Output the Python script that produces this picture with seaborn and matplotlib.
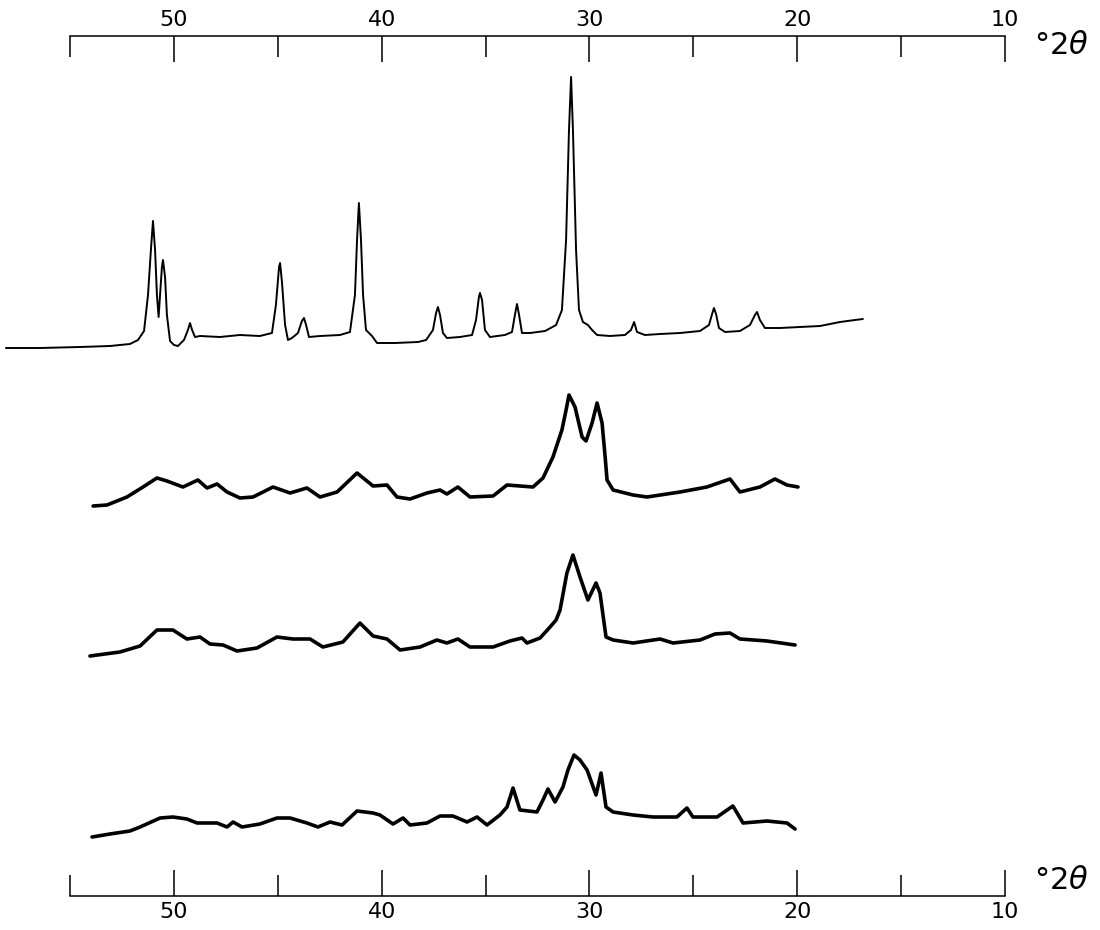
import numpy as np
import pandas as pd
import matplotlib
matplotlib.use('Agg')
import matplotlib.pyplot as plt
from matplotlib.ticker import FixedLocator
import seaborn as sns

sns.set_theme(style='white')
plt.rcParams['font.family'] = ['DejaVu Sans']
plt.rcParams['mathtext.fontset'] = 'dejavusans'

# Diffractogramas: angulo (°2θ) e intensidad relativa
deg_a = [58.08, 56.44, 54.52, 53.08, 52.12, 51.73, 51.44, 51.25, 51.11, 51.01,
         50.91, 50.82, 50.74, 50.67, 50.58, 50.53, 50.43, 50.34, 50.19, 50.00,
         49.81, 49.52, 49.33, 49.23, 49.13, 48.99, 48.75, 47.79, 46.83, 45.87,
         45.29, 45.10, 44.95, 44.90, 44.81, 44.66, 44.52, 44.33, 44.04, 43.85,
         43.75, 43.65, 43.51, 42.98, 42.02, 41.54, 41.30, 41.20, 41.11, 41.01,
         40.91, 40.77, 40.48, 40.24, 39.38, 38.27, 37.88, 37.55, 37.40, 37.31,
         37.21, 37.07, 36.88, 36.25, 35.67, 35.48, 35.34, 35.29, 35.19, 35.05,
         34.81, 34.09, 33.75, 33.61, 33.51, 33.41, 33.27, 32.88, 32.16, 31.63,
         31.35, 31.15, 31.01, 30.91, 30.82, 30.67, 30.53, 30.34, 30.10, 29.90,
         29.66, 29.04, 28.32, 28.03, 27.88, 27.74, 27.36, 26.63, 25.67, 24.71,
         24.28, 24.13, 24.04, 23.94, 23.80, 23.51, 22.79, 22.31, 22.07, 21.97,
         21.83, 21.59, 20.87, 19.90, 18.94, 17.98, 17.26, 16.88]
int_a = [7, 7, 8, 9, 11, 15, 24, 60, 105, 134,
         105, 60, 38, 60, 88, 95, 78, 40, 14, 10,
         9, 15, 25, 32, 25, 18, 19, 18, 20, 19,
         22, 50, 88, 92, 73, 30, 15, 17, 22, 34,
         37, 30, 18, 19, 20, 23, 60, 115, 152, 115,
         60, 25, 19, 12, 12, 13, 15, 25, 42, 48,
         40, 22, 17, 18, 20, 35, 58, 62, 55, 25,
         18, 20, 23, 40, 51, 40, 22, 22, 24, 30,
         45, 115, 225, 278, 225, 105, 45, 33, 30, 25,
         20, 19, 20, 25, 33, 23, 20, 21, 22, 24,
         30, 41, 47, 41, 27, 23, 24, 30, 40, 43,
         35, 27, 27, 28, 29, 33, 35, 36]

deg_b = [53.89, 53.22, 52.26, 51.49, 50.82, 50.34, 49.57, 48.85, 48.41, 47.93,
         47.45, 46.83, 46.20, 45.24, 44.42, 43.61, 42.98, 42.16, 41.20, 40.43,
         39.76, 39.28, 38.65, 37.84, 37.21, 36.88, 36.35, 35.77, 34.66, 33.99,
         32.74, 32.26, 31.78, 31.35, 31.15, 31.01, 30.72, 30.38, 30.19, 29.90,
         29.66, 29.42, 29.28, 29.18, 28.89, 27.93, 27.26, 25.67, 24.38, 23.27,
         22.79, 21.83, 21.11, 20.53, 20.00]
int_b = [1, 2, 10, 20, 29, 26, 20, 27, 19, 23,
         15, 9, 10, 20, 14, 19, 10, 15, 34, 21,
         22, 10, 8, 14, 17, 13, 20, 10, 11, 22,
         20, 29, 50, 77, 97, 112, 100, 70, 66, 84,
         104, 84, 52, 27, 17, 12, 10, 15, 20, 28,
         15, 20, 28, 22, 20]

deg_c = [54.04, 52.60, 51.63, 50.82, 50.05, 49.38, 48.75, 48.27, 47.64, 46.97,
         46.01, 45.05, 44.28, 43.46, 42.84, 41.88, 41.06, 40.43, 39.76, 39.13,
         38.17, 37.36, 36.88, 36.35, 35.77, 34.66, 33.85, 33.27, 33.03, 32.40,
         31.92, 31.63, 31.44, 31.11, 30.82, 30.48, 30.10, 29.71, 29.52, 29.23,
         28.89, 27.93, 26.63, 26.01, 24.71, 23.99, 23.27, 22.79, 21.49, 20.14]
int_c = [1, 5, 11, 27, 27, 18, 20, 13, 12, 6,
         9, 20, 18, 18, 10, 15, 34, 21, 18, 7,
         10, 17, 14, 18, 10, 10, 16, 19, 14, 19,
         30, 37, 47, 84, 102, 80, 57, 74, 64, 20,
         17, 14, 18, 14, 17, 23, 24, 18, 16, 12]

deg_d = [53.94, 53.08, 52.12, 51.63, 50.67, 50.05, 49.38, 48.89, 47.93, 47.45,
         47.16, 46.73, 45.87, 45.05, 44.42, 43.61, 43.08, 42.50, 41.92, 41.20,
         40.43, 40.10, 39.47, 38.99, 38.65, 37.84, 37.21, 36.59, 35.91, 35.43,
         34.95, 34.33, 33.99, 33.70, 33.37, 32.55, 32.26, 32.02, 31.68, 31.30,
         31.06, 30.77, 30.48, 30.14, 29.71, 29.47, 29.23, 28.89, 27.93, 26.97,
         25.82, 25.34, 25.05, 23.89, 23.13, 22.64, 21.49, 20.53, 20.14]
int_d = [1, 4, 7, 11, 20, 21, 19, 15, 15, 11,
         16, 11, 14, 20, 20, 15, 11, 16, 13, 27,
         25, 23, 14, 20, 13, 15, 22, 22, 16, 21,
         13, 23, 31, 50, 28, 26, 38, 49, 36, 51,
         68, 83, 78, 68, 43, 65, 31, 26, 23, 21,
         21, 30, 21, 21, 32, 15, 17, 15, 9]

major_ticks = [50, 40, 30, 20, 10]
minor_ticks = [55, 45, 35, 25, 15]
axis_label = '°2$\\theta$'

traces = [
    pd.DataFrame({'deg': deg_a, 'intensity': int_a}),
    pd.DataFrame({'deg': deg_b, 'intensity': int_b}),
    pd.DataFrame({'deg': deg_c, 'intensity': int_c}),
    pd.DataFrame({'deg': deg_d, 'intensity': int_d}),
]
# nivel de base de cada traza (en la escala vertical del lienzo) y grosor
bases = [355, 507, 657, 838]
widths = [1.4, 2.6, 2.6, 2.6]

fig = plt.figure(figsize=(11, 9.3), dpi=100)
ax = fig.add_axes([0, 0, 1, 1])
for df, base, lw in zip(traces, bases, widths):
    df = df.assign(y=base - df['intensity'])
    sns.lineplot(data=df, x='deg', y='y', estimator=None, sort=False,
                 color='black', linewidth=lw, ax=ax)
ax.set_xlim(58.365, 5.481)
ax.set_ylim(930, 0)
ax.axis('off')

# escalas superior e inferior
x0, x1 = 70 / 1100, 1005 / 1100
ax_top = fig.add_axes([x0, 1 - 36 / 930 - 0.01, x1 - x0, 0.01])
ax_bot = fig.add_axes([x0, 1 - 896 / 930, x1 - x0, 0.01])
for a, side in [(ax_top, 'top'), (ax_bot, 'bottom')]:
    a.set_xlim(55, 10)
    a.patch.set_alpha(0)
    a.set_yticks([])
    for s in a.spines:
        a.spines[s].set_visible(s == side)
    a.spines[side].set_color('black')
    a.spines[side].set_linewidth(1.1)
    a.xaxis.set_major_locator(FixedLocator(major_ticks))
    a.xaxis.set_minor_locator(FixedLocator(minor_ticks))
    a.set_xticklabels([str(t) for t in major_ticks])
    a.tick_params(axis='x', which='both', direction='in', color='black',
                  width=1.1, labelsize=16, labelcolor='black',
                  top=(side == 'top'), labeltop=(side == 'top'),
                  bottom=(side == 'bottom'), labelbottom=(side == 'bottom'))
    a.tick_params(axis='x', which='major', length=19, pad=4)
    a.tick_params(axis='x', which='minor', length=15)

fig.text(1034 / 1100, 1 - 46 / 930, axis_label, fontsize=22, color='black',
         ha='left', va='center')
fig.text(1034 / 1100, 1 - 880 / 930, axis_label, fontsize=22, color='black',
         ha='left', va='center')

fig.savefig('out.png', dpi=100)
